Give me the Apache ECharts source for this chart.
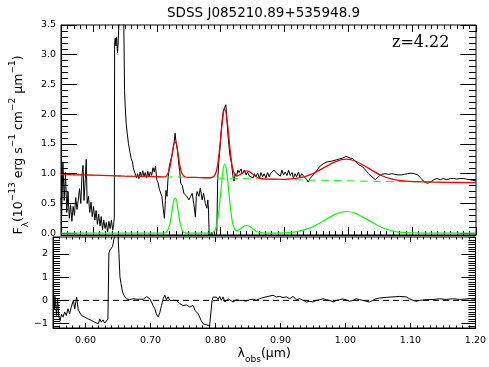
<!DOCTYPE html>
<html><head><meta charset="utf-8">
<script src="https://cdn.jsdelivr.net/npm/echarts@6/dist/echarts.min.js"></script>
<style>html,body{margin:0;padding:0;background:#fff}#c{width:489px;height:367px}</style>
</head><body><div id="c"></div>
<script>
// ---------- observed spectrum (top panel) ----------
const specLam = [
0.550,0.551,0.553,0.555,0.557,0.559,0.561,0.563,0.565,0.567,
0.569,0.571,0.573,0.575,0.577,0.579,0.581,0.583,0.5845,0.586,
0.588,0.5895,0.591,0.593,0.595,0.597,0.599,0.601,0.603,0.605,
0.607,0.609,0.611,0.613,0.615,0.617,0.619,0.621,0.623,0.625,
0.627,0.629,0.631,0.6325,0.6335,0.634,0.635,0.636,0.637,0.6385,
0.6395,0.641,0.643,0.646,0.648,0.6495,0.6505,0.652,0.6535,0.6556,
0.658,0.660,0.662,0.6632,0.6645,0.6657,0.667,0.6683,0.670,0.672,
0.674,0.676,0.678,0.680,0.682,0.684,0.686,0.688,0.690,0.692,
0.694,0.696,0.698,0.700,0.702,0.704,0.706,0.708,0.710,0.712,
0.7135,0.7145,0.716,0.7175,0.7195,0.722,0.7247,0.727,0.7287,0.730,
0.7323,0.7349,0.736,0.7375,0.740,0.7426,0.745,0.7477,0.7503,0.753,
0.7554,0.758,0.7605,0.762,0.7631,0.766,0.7682,0.771,0.7733,0.776,
0.7784,0.780,0.781,0.782,0.784,0.786,0.788,0.790,0.792,0.794,
0.7954,0.7975,0.799,0.8015,0.804,0.8066,0.8082,0.8095,0.8118,0.8143,
0.8169,0.8195,0.821,0.823,0.825,0.827,0.829,0.832,0.834,0.837,
0.840,0.842,0.845,0.848,0.851,0.853,0.855,0.858,0.861,0.863,
0.866,0.868,0.871,0.8735,0.876,0.8785,0.881,0.8835,0.886,0.8885,
0.891,0.8935,0.896,0.8985,0.901,0.904,0.9065,0.909,0.912,0.914,
0.9165,0.919,0.922,0.924,0.927,0.930,0.932,0.935,0.9372,0.940,
0.9425,0.945,0.948,0.9525,0.955,0.958,0.961,0.964,0.967,0.970,
0.973,0.976,0.9805,0.983,0.9865,0.9905,0.9935,0.9961,0.9995,1.003,
1.0064,1.0115,1.0165,1.022,1.027,1.032,1.037,1.0422,1.047,1.052,
1.0576,1.063,1.068,1.073,1.078,1.083,1.088,1.093,1.098,1.1035,
1.1088,1.114,1.119,1.1242,1.129,1.134,1.139,1.144,1.149,1.154,
1.160,1.165,1.170,1.175,1.180,1.185,1.190,1.195,1.200];
const specFlux = [
0.60,0.30,1.18,0.55,1.02,0.35,0.70,0.25,0.48,0.20,
0.45,0.30,0.60,0.40,0.55,0.75,0.50,1.00,1.14,0.55,
0.90,1.24,0.50,0.62,0.35,0.52,0.28,0.45,0.22,0.38,
0.15,0.32,0.12,0.28,0.06,0.22,0.08,0.18,0.02,0.20,
0.08,0.22,0.05,0.15,0.27,3.20,3.28,3.15,3.30,3.03,
3.20,3.60,4.00,4.30,3.90,2.40,2.15,1.85,1.70,1.51,
1.36,1.25,1.20,1.10,1.13,1.01,1.04,0.93,1.00,0.92,
1.03,0.95,1.05,0.96,1.02,0.93,1.04,0.95,1.03,0.97,
1.10,1.03,1.13,0.90,0.85,0.74,0.76,0.62,0.42,0.25,
0.55,0.72,0.62,0.90,1.12,1.23,1.35,1.51,1.68,1.55,
1.40,1.12,1.05,0.84,0.80,0.67,0.69,0.61,0.56,0.62,
0.67,0.50,0.27,0.62,0.70,0.62,0.76,0.56,0.67,0.50,
0.42,0.56,0.40,0.00,-0.05,0.02,-0.08,-0.03,-0.10,0.02,
0.89,1.25,1.42,1.80,2.05,2.12,2.16,1.95,1.62,1.33,
1.18,0.95,0.88,1.00,0.96,1.06,1.02,1.08,1.00,1.06,
0.98,1.03,0.96,0.99,0.93,1.00,0.95,1.01,0.92,1.02,
0.95,1.00,0.93,1.02,0.95,1.01,0.98,1.06,1.03,1.00,
1.01,0.96,1.06,0.98,1.03,0.97,1.06,0.97,1.02,0.92,
1.00,0.95,1.03,0.94,1.00,0.96,0.98,0.90,0.86,0.92,
0.95,0.98,1.00,1.08,1.12,1.10,1.17,1.15,1.20,1.17,
1.21,1.19,1.23,1.22,1.25,1.26,1.28,1.29,1.28,1.26,
1.26,1.20,1.15,1.12,1.06,1.00,0.95,0.90,0.95,0.99,
1.00,0.99,1.00,0.99,0.98,0.98,0.99,1.00,1.01,1.00,
0.98,0.92,0.86,0.84,0.86,0.90,0.92,0.90,0.92,0.90,
0.92,0.92,0.91,0.92,0.92,0.91,0.90,0.89,0.88];

// ---------- model: continuum, emission lines, total ----------
const modelLam = [
0.55,0.60,0.65,0.70,0.71,0.715,0.72,0.724,0.727,0.73,
0.733,0.736,0.74,0.745,0.75,0.76,0.78,0.79,0.795,0.80,
0.803,0.806,0.808,0.811,0.814,0.818,0.822,0.826,0.83,0.835,
0.84,0.845,0.85,0.855,0.86,0.87,0.88,0.90,0.92,0.94,
0.96,0.98,0.997,1.01,1.03,1.05,1.07,1.09,1.12,1.15,1.20];
const contFlux = [
0.99,0.975,0.96,0.95,0.948,0.947,0.946,0.946,0.945,0.945,
0.944,0.944,0.943,0.942,0.94,0.938,0.932,0.93,0.928,0.925,
0.925,0.924,0.924,0.923,0.923,0.922,0.921,0.92,0.92,0.918,
0.917,0.916,0.915,0.914,0.913,0.91,0.908,0.90,0.897,0.893,
0.89,0.885,0.881,0.878,0.874,0.87,0.868,0.866,0.862,0.855,0.85];
const lineFlux = [
0,0,0,0,0,0.014,0.132,0.38,0.565,0.58,
0.415,0.206,0.047,0.003,0,0,0,0.032,0.20,0.66,
0.98,1.16,1.13,0.90,0.57,0.215,0.067,0.042,0.062,0.104,
0.13,0.118,0.079,0.039,0.014,0.001,0.001,0.006,0.028,0.089,
0.20,0.32,0.365,0.34,0.228,0.108,0.036,0.009,0.0005,0,0];
const modelFlux = [
0.99,0.975,0.96,0.95,0.948,0.961,1.078,1.326,1.51,1.525,
1.359,1.15,0.99,0.945,0.94,0.938,0.932,0.962,1.128,1.585,
1.905,2.084,2.054,1.823,1.493,1.137,0.988,0.962,0.982,1.022,
1.047,1.034,0.994,0.953,0.927,0.911,0.909,0.906,0.925,0.982,
1.09,1.205,1.246,1.218,1.102,0.978,0.904,0.875,0.8625,0.855,0.85];

// ---------- residuals (bottom panel) ----------
const resLam = [
0.5505,0.552,0.553,0.5556,0.557,0.559,0.5608,0.563,0.5655,0.568,
0.5705,0.573,0.5755,0.578,0.5813,0.5835,0.5864,0.589,0.5915,0.594,
0.5966,0.599,0.6015,0.604,0.6069,0.6095,0.612,0.6145,0.617,0.6197,
0.622,0.6245,0.627,0.6295,0.632,0.6345,0.636,0.6376,0.6395,0.6417,
0.6435,0.6453,0.648,0.650,0.6514,0.653,0.6545,0.657,0.659,0.6606,
0.663,0.6658,0.668,0.6705,0.6734,0.676,0.6785,0.681,0.6836,0.686,
0.6888,0.691,0.6939,0.696,0.699,0.7015,0.704,0.7067,0.709,0.7119,
0.7145,0.717,0.7195,0.7221,0.7245,0.727,0.7298,0.732,0.735,0.7375,
0.740,0.7425,0.745,0.7475,0.7503,0.753,0.7555,0.758,0.7605,0.763,
0.7655,0.7685,0.7708,0.7735,0.7759,0.778,0.781,0.7835,0.786,0.7885,
0.791,0.7928,0.7948,0.7964,0.799,0.8015,0.804,0.8065,0.809,0.8117,
0.8145,0.817,0.8195,0.822,0.827,0.8322,0.837,0.842,0.8475,0.8527,
0.858,0.8625,0.8681,0.873,0.8886,0.8937,0.899,0.904,0.909,0.914,
0.9193,0.9245,0.9296,0.935,0.940,0.945,0.9501,0.955,0.9603,0.9655,
0.9705,0.976,0.981,0.986,0.9911,0.996,1.001,1.006,1.0115,1.0165,
1.0218,1.027,1.032,1.037,1.042,1.047,1.0525,1.0627,1.073,1.083,
1.0935,1.0985,1.104,1.109,1.1142,1.1242,1.135,1.145,1.155,1.1652,
1.1754,1.1856,1.1908,1.200];
const resFlux = [
0.10,-0.40,0.18,-0.65,0.05,-0.70,-0.87,-0.60,-0.72,-0.50,
-0.65,-0.36,-0.58,-0.30,0.00,-0.36,0.14,-0.43,-0.51,-0.65,
-0.58,-0.72,-0.65,-0.80,-0.72,-0.87,-0.80,-0.94,-0.87,-1.01,
-0.80,-0.94,-0.84,-0.98,-0.90,-0.80,2.03,2.17,2.25,2.32,
2.61,2.80,3.00,2.80,2.03,1.02,0.73,0.36,0.22,0.15,
0.07,0.00,0.03,0.05,0.07,0.03,0.05,0.03,0.05,0.07,
0.05,0.10,0.16,0.22,0.07,-0.07,-0.22,-0.36,-0.58,-0.72,
-0.51,-0.22,0.07,0.23,0.03,0.15,0.00,0.07,0.00,-0.07,
0.00,-0.07,-0.14,-0.07,-0.22,-0.14,-0.20,-0.14,-0.29,-0.36,
-0.22,-0.43,-0.36,-0.58,-0.58,-0.87,-1.01,-0.94,-1.05,-0.98,
-1.09,-1.01,0.00,0.14,0.07,0.14,0.03,0.17,0.00,0.15,
-0.07,0.00,0.07,0.00,-0.07,0.03,0.00,0.00,-0.03,0.03,
0.05,0.00,0.07,0.12,0.22,0.15,0.17,0.12,0.15,0.07,
0.17,0.03,0.07,0.00,-0.07,-0.04,-0.07,0.00,0.03,0.07,
0.03,0.00,-0.07,0.00,0.03,0.06,0.03,-0.04,0.00,0.07,
0.03,0.00,-0.04,-0.07,0.00,0.07,0.10,0.13,0.15,0.17,
0.15,0.07,0.00,-0.04,0.00,0.03,0.04,0.07,0.04,0.07,
0.04,0.06,0.08,0.05];

// ---------- axis ranges and tick values ----------
const xRange = [0.55, 1.20];
const yRangeTop = [-0.03, 3.5];
const yRangeBot = [-1.19, 2.73];
const xMajorTicks = [0.60,0.70,0.80,0.90,1.00,1.10,1.20];
const yTopMajorTicks = [0.0,0.5,1.0,1.5,2.0,2.5,3.0,3.5];
const yBotMajorTicks = [-1,0,1,2];
const zeroLine = [0, 0];

function steps(a,b,s){const o=[];const n=Math.round((b-a)/s);for(let i=0;i<=n;i++)o.push(+(a+i*s).toFixed(3));return o;}
const xMinorTicks = steps(0.55,1.20,0.01);
const yTopMinorTicks = steps(0.0,3.5,0.1);
const yBotMinorTicks = steps(-1.1,2.7,0.1);

const FONT = 'DejaVu Sans';
const GRID_TOP = {left:53, top:25, width:423, height:210, show:true, borderColor:'#000', borderWidth:1};
const GRID_BOT = {left:53, top:237, width:423, height:91, show:true, borderColor:'#000', borderWidth:1};

const pairs = (xs,ys)=>xs.map((x,i)=>[x,ys[i]]);

// Inward tick marks as markLine segments placed on the axes' own scales.
function tickMarks(grid, yr, spec){
  const pxX = grid.width/(xRange[1]-xRange[0]);
  const pxY = grid.height/(yr[1]-yr[0]);
  const d=[];
  spec.forEach(s=>s.vals.forEach(v=>{
    if(s.side==='bottom') d.push([{coord:[v,yr[0]]},{coord:[v,yr[0]+s.len/pxY]}]);
    else if(s.side==='top') d.push([{coord:[v,yr[1]]},{coord:[v,yr[1]-s.len/pxY]}]);
    else if(s.side==='left') d.push([{coord:[xRange[0],v]},{coord:[xRange[0]+s.len/pxX,v]}]);
    else d.push([{coord:[xRange[1],v]},{coord:[xRange[1]-s.len/pxX,v]}]);
  }));
  return {silent:true, symbol:'none', label:{show:false},
    lineStyle:{color:'#000', width:1, type:'solid'}, data:d};
}

const yName = '{n|F}{sb|\u03bb}{n|(10}{sp|\u221213}{n| erg s}{sp|\u22121}{n| cm}{sp|\u22122}{n| \u03bcm}{sp|\u22121}{n|)}{pad| }';
const xName = '{n|\u03bb}{sb|obs}{n|(\u03bcm)}';
const nameRich = {
  n:{fontFamily:FONT,fontSize:12.5,lineHeight:22,verticalAlign:'middle',color:'#000'},
  sp:{fontFamily:FONT,fontSize:9,lineHeight:11,verticalAlign:'top',color:'#000'},
  sb:{fontFamily:FONT,fontSize:9,lineHeight:11,verticalAlign:'bottom',color:'#000'},
  pad:{width:30,fontSize:9}
};

function xAx(grid, labels, tickLen, extra){
  return Object.assign({type:'value', gridIndex:grid, position:'bottom', min:xRange[0], max:xRange[1],
    minInterval:0.1, maxInterval:0.1,
    axisLine:{show:true, onZero:false, lineStyle:{color:'#000', width:1}},
    axisTick:{show:true, inside:true, length:tickLen, lineStyle:{color:'#000', width:1}},
    axisLabel:{show:labels, showMinLabel:false, formatter:v=>v.toFixed(2),
      color:'#000', fontFamily:FONT, fontSize:9.5, margin:8},
    splitLine:{show:false}}, extra||{});
}
function yAx(grid, rng, step, fmt, showMax, tickLen, extra){
  return Object.assign({type:'value', gridIndex:grid, position:'left', min:rng[0], max:rng[1],
    minInterval:step, maxInterval:step,
    axisLine:{show:true, onZero:false, lineStyle:{color:'#000', width:1}},
    axisTick:{show:true, inside:true, length:tickLen, lineStyle:{color:'#000', width:1}},
    axisLabel:{show:true, showMinLabel:false, showMaxLabel:showMax, formatter:fmt,
      color:'#000', fontFamily:FONT, fontSize:9.5, margin:5},
    splitLine:{show:false}}, extra||{});
}

const option = {
  animation:false,
  title:[
    {text:'SDSS J085210.89+535948.9', left:167, top:6, padding:0,
     textStyle:{fontFamily:FONT, fontSize:13.5, fontWeight:'normal', color:'#000'}},
    {text:'z=4.22', left:392, top:35, padding:0,
     textStyle:{fontFamily:'DejaVu Serif', fontSize:16, fontWeight:'normal', color:'#000'}}
  ],
  grid:[GRID_TOP, GRID_BOT],
  xAxis:[
    xAx(0,false,8),
    xAx(1,true,5,{name:xName, nameLocation:'middle', nameGap:11,
      nameTextStyle:{rich:nameRich, color:'#000'}})
  ],
  yAxis:[
    yAx(0,yRangeTop,0.5,v=>v.toFixed(1),true,16,{name:yName, nameLocation:'middle', nameRotate:90, nameGap:26,
      nameTextStyle:{rich:nameRich, color:'#000'}}),
    yAx(1,yRangeBot,1,v=>(v<-1e-9?'\u2212':'')+Math.abs(Math.round(v)),false,16)
  ],
  series:[
    {type:'line',xAxisIndex:0,yAxisIndex:0,data:pairs(specLam,specFlux),symbol:'none',
     lineStyle:{color:'#000',width:1},z:2,
     markLine:tickMarks(GRID_TOP, yRangeTop, [
      {vals:xMajorTicks,side:'bottom',len:8},{vals:xMinorTicks,side:'bottom',len:4},
      {vals:xMajorTicks,side:'top',len:7},{vals:xMinorTicks,side:'top',len:4},
      {vals:yTopMajorTicks,side:'left',len:16},{vals:yTopMinorTicks,side:'left',len:7},
      {vals:yTopMajorTicks,side:'right',len:16},{vals:yTopMinorTicks,side:'right',len:7}
     ])},
    {type:'line',xAxisIndex:0,yAxisIndex:0,data:pairs(modelLam,contFlux),symbol:'none',
     lineStyle:{color:'#00ff00',width:1,type:[8,5]},z:3},
    {type:'line',xAxisIndex:0,yAxisIndex:0,data:pairs(modelLam,modelFlux),symbol:'none',smooth:0.3,
     lineStyle:{color:'#ff0000',width:1.3},z:4},
    {type:'line',xAxisIndex:0,yAxisIndex:0,data:pairs(modelLam,lineFlux),symbol:'none',smooth:0.3,
     lineStyle:{color:'#00ff00',width:1.2},z:5},
    {type:'line',xAxisIndex:1,yAxisIndex:1,data:pairs(resLam,resFlux),symbol:'none',
     lineStyle:{color:'#000',width:1},z:2,
     markLine:tickMarks(GRID_BOT, yRangeBot, [
      {vals:xMajorTicks,side:'bottom',len:5},{vals:xMinorTicks,side:'bottom',len:2.5},
      {vals:xMajorTicks,side:'top',len:5},{vals:xMinorTicks,side:'top',len:2.5},
      {vals:yBotMajorTicks,side:'left',len:16},{vals:yBotMinorTicks,side:'left',len:7},
      {vals:yBotMajorTicks,side:'right',len:14},{vals:yBotMinorTicks,side:'right',len:7}
     ])},
    {type:'line',xAxisIndex:1,yAxisIndex:1,data:pairs(xRange,zeroLine),symbol:'none',
     lineStyle:{color:'#000',width:1,type:[6,4]},z:1}
  ]
};
const chart = echarts.init(document.getElementById('c'));
chart.setOption(option);
</script>
</body></html>
